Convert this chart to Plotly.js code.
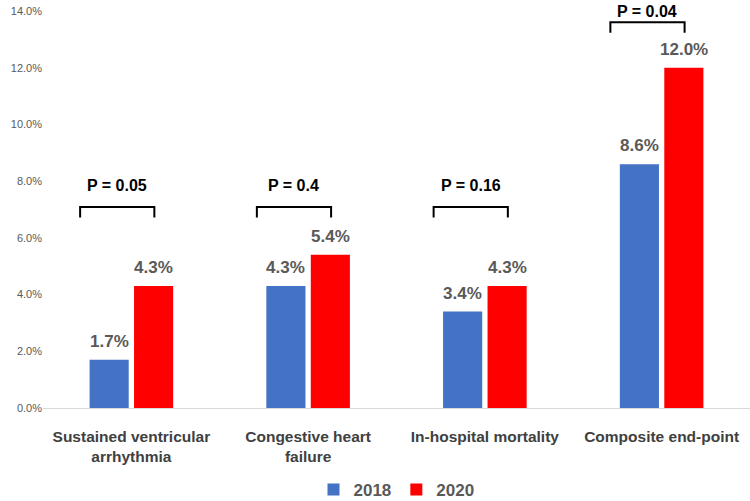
<!DOCTYPE html>
<html><head><meta charset="utf-8">
<script src="https://cdn.plot.ly/plotly-3.0.1.min.js"></script>
<style>body{margin:0;background:#fff}#c{width:750px;height:501px}</style>
</head><body><div id="c"></div>
<script>
const categories = ["Sustained ventricular<br>arrhythmia", "Congestive heart<br>failure", "In-hospital mortality", "Composite end-point"];
const values2018 = [1.7, 4.3, 3.4, 8.6];
const values2020 = [4.3, 5.4, 4.3, 12.0];
const pLabels = ["P = 0.05", "P = 0.4", "P = 0.16", "P = 0.04"];
const bracketTop = [7.09, 7.09, 7.09, 13.6];
const bracketDrop = 0.37;
const pLabelY = [7.86, 7.86, 7.86, 13.99];

const font = "Liberation Sans, Arial, sans-serif";
const traces = [
  {type: "bar", name: "2018", x: categories, y: values2018, marker: {color: "#4472C4"}},
  {type: "bar", name: "2020", x: categories, y: values2020, marker: {color: "#FF0000"}}
];
const shapes = [], annotations = [];
const barOffset = 0.126;
for (let i = 0; i < categories.length; i++) {
  const x0 = i - 0.29, x1 = i + 0.13, t = bracketTop[i];
  shapes.push({type: "path", xref: "x", yref: "y",
    path: `M ${x0} ${t - bracketDrop} L ${x0} ${t} L ${x1} ${t} L ${x1} ${t - bracketDrop}`,
    line: {color: "#000", width: 2}});
  annotations.push({xref: "x", yref: "y", x: (x0 + x1) / 2, y: pLabelY[i], text: pLabels[i],
    showarrow: false, font: {family: font, size: 16, color: "#000", weight: "bold"}, yanchor: "middle"});
  [[values2018, -barOffset], [values2020, barOffset]].forEach(([vals, off]) => {
    annotations.push({xref: "x", yref: "y", x: i + off, y: vals[i], text: vals[i].toFixed(1) + "%",
      showarrow: false, yanchor: "bottom", yshift: 7,
      font: {family: font, size: 17, color: "#595959", weight: "bold"}});
  });
}
const layout = {
  width: 750, height: 501, margin: {l: 43, r: 0, t: 11, b: 93, autoexpand: false},
  paper_bgcolor: "#fff", plot_bgcolor: "#fff",
  barmode: "group", bargap: 0.497, bargroupgap: 0.12,
  font: {family: font},
  xaxis: {type: "category", automargin: false, showgrid: false, showline: true, linecolor: "#d9d9d9", linewidth: 1,
    ticks: "", tickfont: {family: font, size: 15.5, color: "#404040", weight: "bold"}, ticklabelstandoff: 14},
  yaxis: {range: [0, 14], automargin: false, dtick: 2, tickformat: ".1f", ticksuffix: "%", showgrid: false, zeroline: false,
    showline: false, tickfont: {family: font, size: 11, color: "#595959"}},
  legend: {orientation: "h", x: 0.5, xanchor: "center", yref: "container", y: 0.022, yanchor: "middle",
    font: {family: font, size: 17, color: "#595959", weight: "bold"}},
  shapes: shapes, annotations: annotations, showlegend: true
};
Plotly.newPlot("c", traces, layout, {displayModeBar: false});
</script></body></html>
